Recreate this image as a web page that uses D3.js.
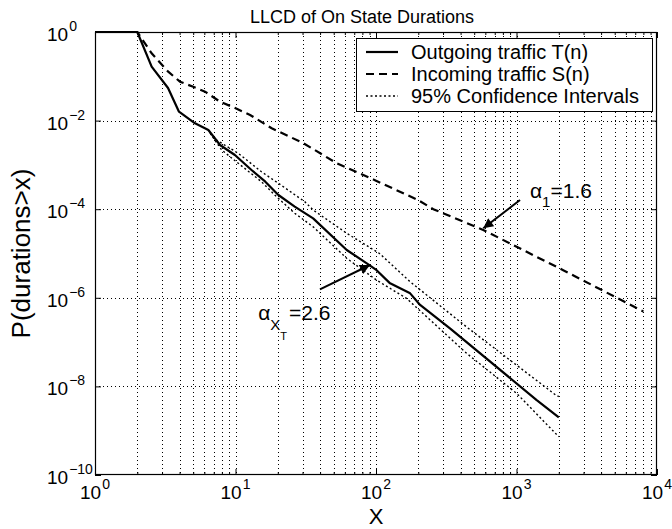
<!DOCTYPE html>
<html><head><meta charset="utf-8">
<script src="https://cdn.jsdelivr.net/npm/d3@7"></script>
<style>
body{margin:0;background:#fff}
svg{display:block}
text{font-family:"Liberation Sans",Arial,Helvetica,sans-serif;fill:#000}
</style>
</head><body>
<svg id="chart" width="672" height="529"></svg>
<script>
// ---------------- data ----------------
const titleText = "LLCD of On State Durations";
const xLabelText = "X";
const yLabelText = "P(durations>x)";

const xTickValues = [1, 10, 100, 1000, 10000];
const xTickExponents = ["0", "1", "2", "3", "4"];
const yTickValues = [1, 1e-2, 1e-4, 1e-6, 1e-8, 1e-10];
const yTickExponents = ["0", "\u22122", "\u22124", "\u22126", "\u22128", "\u221210"];

const legendLabels = ["Outgoing traffic T(n)", "Incoming traffic S(n)", "95% Confidence Intervals"];

// Outgoing traffic T(n)  [x, P]
const outgoing = [
  [1, 1], [2, 1], [2.53, 0.165], [3.31, 0.0544], [3.96, 0.0159], [5.15, 0.0087],
  [6.41, 0.00614], [7.76, 0.00281], [9.9, 0.00167], [13.0, 7.67e-4], [16.3, 4.18e-4],
  [20.2, 2.09e-4], [26.4, 1.14e-4], [35.7, 6.2e-5], [61.9, 1.2e-5], [86, 6.0e-6],
  [101, 4.2e-6], [126, 2.12e-6], [175, 1.26e-6], [206, 6.9e-7], [336, 2.05e-7],
  [1392, 4.9e-9], [2000, 2.0e-9]
];
// Incoming traffic S(n)
const incoming = [
  [1, 1], [2, 1], [2.53, 0.33], [3.32, 0.127], [4.03, 0.0755], [5.0, 0.058],
  [6.07, 0.045], [7.76, 0.0267], [9.66, 0.02], [12.7, 0.0134], [18.1, 0.0067],
  [30.4, 0.0031], [52.5, 0.00109], [100, 4.4e-4], [200, 1.6e-4], [256, 1.0e-4],
  [580, 3.4e-5], [2150, 4.2e-6], [8000, 4.9e-7]
];
// 95% confidence interval, upper and lower
const ciUpper = [
  [6.6, 0.0052], [7.15, 0.0038], [10.46, 1.83e-3], [15.3, 7.0e-4], [20.2, 3.84e-4],
  [31.1, 1.48e-4], [35.7, 9.6e-5], [61.9, 2.86e-5], [106, 1.0e-5], [175, 2.3e-6],
  [441, 2.2e-7], [1900, 6.4e-9], [2000, 5.9e-9]
];
const ciLower = [
  [6.6, 0.0052], [7.97, 2.17e-3], [10.46, 1.09e-3], [15.3, 4.18e-4], [19.6, 1.91e-4],
  [26.4, 8.1e-5], [35.7, 4.0e-5], [61.9, 7.8e-6], [101, 2.5e-6], [165, 9.7e-7],
  [441, 5.6e-8], [1000, 7.0e-9], [2000, 7.3e-10]
];

// annotations: arrow tail -> head, label anchor (data coordinates)
const arrowIncoming = [[1059, 1.61e-4], [580, 3.7e-5]];
const arrowOutgoing = [[39.9, 1.55e-6], [90.6, 5.5e-6]];
const labelIncomingPos = [1247, 1.8e-4];
const labelOutgoingPos = [14.5, 3.2e-7];

// ---------------- layout ----------------
const W = 672, H = 529;
const mLeft = 95, mRight = 657, mTop = 32, mBottom = 475;

const svg = d3.select("#chart");
svg.append("rect").attr("width", W).attr("height", H).attr("fill", "#fff");

const x = d3.scaleLog().domain([1, 1e4]).range([mLeft, mRight]);
const y = d3.scaleLog().domain([1e-10, 1]).range([mBottom, mTop]);

// minor x positions
const xMinor = [];
for (let d = 0; d < 4; d++) for (let k = 2; k <= 9; k++) xMinor.push(k * Math.pow(10, d));

// ---------------- grid ----------------
const grid = svg.append("g").attr("stroke", "#000").attr("stroke-width", 1)
  .attr("stroke-dasharray", "1,3").attr("shape-rendering", "crispEdges");
grid.selectAll("line.vx").data(xMinor.concat(xTickValues.slice(1, 4))).enter().append("line")
  .attr("x1", d => Math.round(x(d)) + 0.5).attr("x2", d => Math.round(x(d)) + 0.5)
  .attr("y1", mTop).attr("y2", mBottom);
grid.selectAll("line.hy").data(yTickValues.slice(1, 5)).enter().append("line")
  .attr("y1", d => Math.round(y(d)) + 0.5).attr("y2", d => Math.round(y(d)) + 0.5)
  .attr("x1", mLeft).attr("x2", mRight);

// ---------------- axes ticks (inward) ----------------
function styleAxis(g) {
  g.select(".domain").remove();
  g.selectAll("text").remove();
  g.selectAll("line").attr("stroke", "#000").attr("stroke-width", 1);
}
svg.append("g").attr("transform", `translate(0,${mBottom})`)
  .call(d3.axisBottom(x).tickValues(xTickValues).tickSize(-6)).call(styleAxis);
svg.append("g").attr("transform", `translate(0,${mBottom})`)
  .call(d3.axisBottom(x).tickValues(xMinor).tickSize(-3)).call(styleAxis);
svg.append("g").attr("transform", `translate(0,${mTop})`)
  .call(d3.axisTop(x).tickValues(xTickValues).tickSize(-6)).call(styleAxis);
svg.append("g").attr("transform", `translate(0,${mTop})`)
  .call(d3.axisTop(x).tickValues(xMinor).tickSize(-3)).call(styleAxis);
svg.append("g").attr("transform", `translate(${mLeft},0)`)
  .call(d3.axisLeft(y).tickValues(yTickValues).tickSize(-6)).call(styleAxis);
svg.append("g").attr("transform", `translate(${mRight},0)`)
  .call(d3.axisRight(y).tickValues(yTickValues).tickSize(-6)).call(styleAxis);

// ---------------- lines ----------------
const line = d3.line().x(d => x(d[0])).y(d => y(d[1]));
const plot = svg.append("g");
plot.append("path").datum(ciUpper).attr("d", line).attr("fill", "none")
  .attr("stroke", "#000").attr("stroke-width", 1.4).attr("stroke-dasharray", "2,2.5");
plot.append("path").datum(ciLower).attr("d", line).attr("fill", "none")
  .attr("stroke", "#000").attr("stroke-width", 1.4).attr("stroke-dasharray", "2,2.5");
plot.append("path").datum(incoming).attr("d", line).attr("fill", "none")
  .attr("stroke", "#000").attr("stroke-width", 2.2).attr("stroke-dasharray", "8,5");
plot.append("path").datum(outgoing).attr("d", line).attr("fill", "none")
  .attr("stroke", "#000").attr("stroke-width", 2.2).attr("stroke-linejoin", "round");

// box
svg.append("rect").attr("x", mLeft + 0.5).attr("y", mTop + 0.5)
  .attr("width", mRight - mLeft - 1).attr("height", mBottom - mTop - 1)
  .attr("fill", "none").attr("stroke", "#000").attr("stroke-width", 1.2);

// ---------------- tick labels ----------------
const yl = svg.append("g");
yTickValues.forEach((v, i) => {
  const t = yl.append("text").attr("x", 47).attr("y", y(v) + 9)
    .attr("text-anchor", "start").attr("font-size", 19);
  t.append("tspan").text("10");
  t.append("tspan").attr("dy", -10).attr("dx", 1).attr("font-size", 14).text(yTickExponents[i]);
});
const xl = svg.append("g");
xTickValues.forEach((v, i) => {
  const t = xl.append("text").attr("x", x(v)).attr("y", 499)
    .attr("text-anchor", "middle").attr("font-size", 19);
  t.append("tspan").text("10");
  t.append("tspan").attr("dy", -10).attr("dx", 1).attr("font-size", 14).text(xTickExponents[i]);
});

// ---------------- titles ----------------
svg.append("text").attr("x", (mLeft + mRight) / 2 - 14).attr("y", 23)
  .attr("text-anchor", "middle").attr("font-size", 18).text(titleText);
svg.append("text").attr("x", (mLeft + mRight) / 2).attr("y", 524)
  .attr("text-anchor", "middle").attr("font-size", 22).text(xLabelText);
svg.append("text").attr("transform", `translate(30,${(mTop + mBottom) / 2}) rotate(-90)`)
  .attr("text-anchor", "middle").attr("font-size", 26).text(yLabelText);

// ---------------- legend ----------------
const lg = svg.append("g");
lg.append("rect").attr("x", 356.5).attr("y", 38.5).attr("width", 296).attr("height", 73)
  .attr("fill", "#fff").attr("stroke", "#000").attr("stroke-width", 1);
const legendStyles = [
  {w: 2.2, dash: null},
  {w: 2.2, dash: "8,5"},
  {w: 1.4, dash: "2,2.5"}
];
legendLabels.forEach((lab, i) => {
  const cy = 52 + i * 22;
  lg.append("line").attr("x1", 366).attr("x2", 398).attr("y1", cy).attr("y2", cy)
    .attr("stroke", "#000").attr("stroke-width", legendStyles[i].w)
    .attr("stroke-dasharray", legendStyles[i].dash);
  lg.append("text").attr("x", 411).attr("y", cy + 7).attr("font-size", 20).text(lab);
});

// ---------------- annotations ----------------
svg.append("defs").append("marker").attr("id", "ah").attr("viewBox", "0 0 10 10")
  .attr("refX", 10).attr("refY", 5).attr("markerWidth", 5.5).attr("markerHeight", 5)
  .attr("markerUnits", "strokeWidth").attr("orient", "auto")
  .append("path").attr("d", "M0,0 L10,5 L0,10 z").attr("fill", "#000");
[arrowIncoming, arrowOutgoing].forEach(a => {
  svg.append("line").attr("x1", x(a[0][0])).attr("y1", y(a[0][1]))
    .attr("x2", x(a[1][0])).attr("y2", y(a[1][1]))
    .attr("stroke", "#000").attr("stroke-width", 2).attr("marker-end", "url(#ah)");
});
const a1 = svg.append("text").attr("x", x(labelIncomingPos[0])).attr("y", y(labelIncomingPos[1]))
  .attr("font-size", 21);
a1.append("tspan").text("\u03b1");
a1.append("tspan").attr("dy", 9).attr("font-size", 15).text("1");
a1.append("tspan").attr("dy", -9).text("=1.6");

const a2 = svg.append("text").attr("x", x(labelOutgoingPos[0])).attr("y", y(labelOutgoingPos[1]))
  .attr("font-size", 21);
a2.append("tspan").text("\u03b1");
a2.append("tspan").attr("dy", 10).attr("font-size", 15).text("X");
a2.append("tspan").attr("dy", 10).attr("font-size", 11).text("T");
a2.append("tspan").attr("dy", -20).attr("dx", 2).text("=2.6");
</script>
</body></html>
